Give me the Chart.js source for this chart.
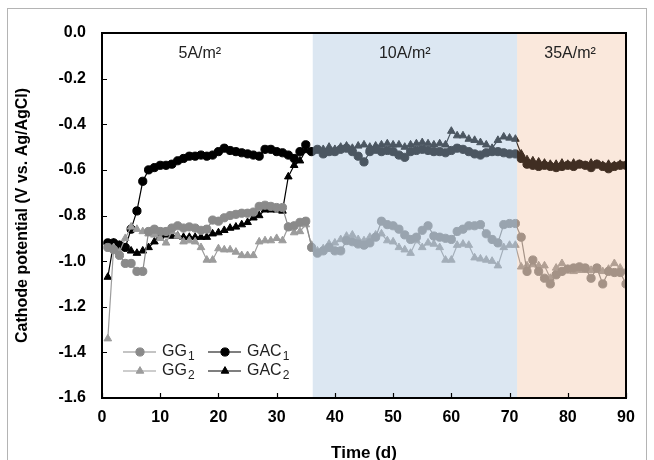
<!DOCTYPE html>
<html>
<head>
<meta charset="utf-8">
<script src="https://cdn.jsdelivr.net/npm/chart.js@4.4.0/dist/chart.umd.min.js"></script>
<style>
  html, body { margin: 0; padding: 0; background: #fff; }
  #wrap { position: relative; width: 654px; height: 460px; overflow: hidden; }
  #frame { position: absolute; left: 7px; top: 8px; width: 640px; height: 470px; border: 1px solid #b4b4b4; box-sizing: border-box; }
  canvas { position: absolute; left: 0; top: 0; }
</style>
</head>
<body>
<div id="wrap">
  <div id="frame"></div>
  <canvas id="potentialChart" width="654" height="460"></canvas>
</div>
<script>
// sampling days
const days = [1,2,3,4,5,6,7,8,9,10,11,12,13,14,15,16,17,18,19,20,21,22,23,24,25,26,27,28,29,30,
  31,32,33,34,35,36,37,38,39,40,41,42,43,44,45,46,47,48,49,50,51,52,53,54,55,56,57,58,59,60,
  61,62,63,64,65,66,67,68,69,70,71,72,73,74,75,76,77,78,79,80,81,82,83,84,85,86,87,88,89,90];

// cathode potential, V vs. Ag/AgCl
const gg1 = [-0.94,-0.95,-0.975,-1.01,-1.01,-1.045,-1.045,-0.87,-0.86,-0.87,-0.87,-0.855,-0.845,-0.855,-0.85,
  -0.855,-0.865,-0.86,-0.82,-0.825,-0.81,-0.80,-0.795,-0.79,-0.79,-0.785,-0.76,-0.755,-0.76,-0.765,
  -0.765,-0.85,-0.845,-0.83,-0.825,-0.94,-0.965,-0.955,-0.94,-0.955,-0.955,-0.91,-0.915,-0.925,-0.93,
  -0.92,-0.895,-0.825,-0.84,-0.845,-0.86,-0.885,-0.905,-0.895,-0.865,-0.845,-0.89,-0.895,-0.90,-0.905,
  -0.87,-0.86,-0.845,-0.845,-0.84,-0.88,-0.905,-0.92,-0.84,-0.835,-0.835,-0.895,-1.045,-0.995,-1.045,
  -1.075,-1.10,-1.06,-1.045,-1.035,-1.03,-1.025,-1.03,-1.075,-1.03,-1.10,-1.045,-1.05,-1.05,-1.10];
const gg2 = [-1.34,-0.94,-0.96,-0.90,-0.85,-0.86,-0.87,-0.88,-0.885,-0.90,-0.92,-0.87,-0.89,-0.915,-0.91,
  -0.915,-0.94,-0.995,-0.995,-0.945,-0.95,-0.95,-0.96,-0.975,-0.975,-0.975,-0.915,-0.91,-0.91,-0.90,
  -0.91,-0.85,-0.875,-0.87,-0.84,-0.93,-0.955,-0.945,-0.925,-0.92,-0.905,-0.89,-0.885,-0.905,-0.91,
  -0.895,-0.885,-0.88,-0.91,-0.915,-0.94,-0.95,-0.965,-0.91,-0.94,-0.92,-0.925,-0.94,-0.995,-0.995,
  -0.93,-0.925,-0.93,-0.985,-0.99,-0.995,-1.0,-1.02,-0.94,-0.93,-0.93,-1.025,-1.02,-1.015,-1.02,
  -1.02,-1.075,-1.03,-1.01,-1.035,-1.045,-1.04,-1.04,-1.04,-1.04,-1.045,-1.035,-1.01,-1.03,-1.045];
const gac1 = [-0.92,-0.92,-0.93,-0.94,-0.86,-0.78,-0.65,-0.60,-0.59,-0.58,-0.58,-0.575,-0.56,-0.55,-0.54,
  -0.54,-0.535,-0.54,-0.535,-0.52,-0.505,-0.515,-0.52,-0.525,-0.53,-0.535,-0.54,-0.51,-0.51,-0.52,
  -0.525,-0.535,-0.55,-0.52,-0.49,-0.52,-0.51,-0.53,-0.52,-0.52,-0.51,-0.505,-0.52,-0.54,-0.565,
  -0.52,-0.51,-0.52,-0.515,-0.52,-0.535,-0.545,-0.52,-0.515,-0.51,-0.515,-0.52,-0.52,-0.525,-0.515,
  -0.505,-0.51,-0.52,-0.53,-0.535,-0.525,-0.52,-0.52,-0.525,-0.53,-0.53,-0.55,-0.575,-0.58,-0.585,
  -0.58,-0.585,-0.59,-0.585,-0.58,-0.585,-0.575,-0.58,-0.59,-0.575,-0.585,-0.595,-0.585,-0.58,-0.58];
const gac2 = [-1.07,-0.92,-0.93,-0.94,-0.955,-0.965,-0.955,-0.94,-0.915,-0.89,-0.885,-0.89,-0.89,-0.895,-0.895,
  -0.895,-0.895,-0.895,-0.88,-0.875,-0.865,-0.855,-0.85,-0.84,-0.83,-0.81,-0.80,-0.775,-0.775,-0.775,
  -0.78,-0.63,-0.58,-0.56,-0.515,-0.52,-0.515,-0.51,-0.50,-0.51,-0.50,-0.495,-0.505,-0.495,-0.49,
  -0.50,-0.495,-0.49,-0.485,-0.49,-0.49,-0.50,-0.49,-0.485,-0.48,-0.485,-0.49,-0.485,-0.49,-0.43,
  -0.45,-0.45,-0.465,-0.47,-0.48,-0.49,-0.505,-0.47,-0.455,-0.46,-0.465,-0.53,-0.555,-0.56,-0.565,
  -0.57,-0.575,-0.575,-0.57,-0.575,-0.57,-0.575,-0.58,-0.57,-0.575,-0.58,-0.575,-0.58,-0.575,-0.58];

// current density phases
const phaseStart = [0, 36.2, 71.3];
const phaseEnd = [36.2, 71.3, 90];
const phaseLabels = ['5A/m²', '10A/m²', '35A/m²'];
const phaseLabelX = [16.8, 52.0, 80.4];
const phaseFill = [null, 'rgba(173,199,225,0.43)', 'rgba(236,170,125,0.27)'];

const seriesNames = ['GG1', 'GG2', 'GAC1', 'GAC2'];
const xTicks = [0, 10, 20, 30, 40, 50, 60, 70, 80, 90];

const FONT = '"Liberation Sans", Arial, sans-serif';

function pts(vals) {
  return days.map((d, i) => ({ x: d, y: vals[i] }));
}

function makeSet(label, vals, color, style, radius) {
  return {
    label,
    data: pts(vals),
    borderColor: color,
    backgroundColor: color,
    pointBackgroundColor: color,
    pointBorderColor: color,
    pointStyle: style,
    pointRadius: radius,
    pointBorderWidth: 1,
    borderWidth: 1.2,
    tension: 0
  };
}

const datasets = [
  makeSet(seriesNames[0], gg1, '#8a8a8a', 'circle', 4.1),
  makeSet(seriesNames[1], gg2, '#9c9c9c', 'triangle', 4.4),
  makeSet(seriesNames[2], gac1, '#000000', 'circle', 4.1),
  makeSet(seriesNames[3], gac2, '#000000', 'triangle', 4.4)
];

// shading sits over the data like in the original figure, then frame, ticks, legend
const phasePlugin = {
  id: 'phases',
  afterDatasetsDraw(chart) {
    const { ctx, chartArea: a, scales: { x, y } } = chart;
    ctx.save();
    phaseStart.forEach((s, i) => {
      if (!phaseFill[i]) return;
      const x0 = x.getPixelForValue(s), x1 = x.getPixelForValue(phaseEnd[i]);
      ctx.fillStyle = phaseFill[i];
      ctx.fillRect(x0, a.top, x1 - x0, a.bottom - a.top);
    });

    ctx.fillStyle = '#222';
    ctx.font = '16px ' + FONT;
    ctx.textAlign = 'center';
    ctx.textBaseline = 'middle';
    phaseLabels.forEach((t, i) => ctx.fillText(t, x.getPixelForValue(phaseLabelX[i]), a.top + 21));

    ctx.strokeStyle = '#000';
    ctx.lineWidth = 1.2;
    ctx.beginPath();
    x.ticks.forEach(t => {
      const px = Math.round(x.getPixelForValue(t.value)) + 0.5;
      ctx.moveTo(px, a.bottom); ctx.lineTo(px, a.bottom - 5);
    });
    y.ticks.forEach(t => {
      const py = Math.round(y.getPixelForValue(t.value)) + 0.5;
      ctx.moveTo(a.left, py); ctx.lineTo(a.left + 5, py);
    });
    ctx.stroke();

    ctx.lineWidth = 2;
    ctx.strokeRect(a.left, a.top, a.right - a.left, a.bottom - a.top);

    // legend
    const cols = [a.left + 21, a.left + 106];
    const rows = [a.bottom - 46, a.bottom - 27];
    const order = [0, 2, 1, 3];
    order.forEach((di, k) => {
      const ds = chart.data.datasets[di];
      const lx = cols[k % 2], ly = rows[Math.floor(k / 2)];
      ctx.strokeStyle = ds.borderColor;
      ctx.lineWidth = 1.2;
      ctx.beginPath();
      ctx.moveTo(lx, ly); ctx.lineTo(lx + 33, ly);
      ctx.stroke();
      ctx.fillStyle = ds.backgroundColor;
      ctx.strokeStyle = ds.borderColor;
      ctx.lineWidth = 1;
      Chart.helpers.drawPoint(ctx, { pointStyle: ds.pointStyle, radius: ds.pointRadius, borderWidth: 1, rotation: 0 }, lx + 17, ly);
      const base = ds.label.slice(0, -1), sub = ds.label.slice(-1);
      ctx.fillStyle = '#222';
      ctx.textAlign = 'left';
      ctx.textBaseline = 'middle';
      ctx.font = '16px ' + FONT;
      ctx.fillText(base, lx + 39, ly);
      const w = ctx.measureText(base).width;
      ctx.font = '12px ' + FONT;
      ctx.fillText(sub, lx + 39 + w + 1, ly + 5);
    });
    ctx.restore();
  }
};

new Chart(document.getElementById('potentialChart'), {
  type: 'line',
  data: { datasets },
  options: {
    responsive: false,
    animation: false,
    layout: { padding: { top: 33, right: 28, left: 7, bottom: 0 } },
    plugins: { legend: { display: false }, tooltip: { enabled: false } },
    scales: {
      x: {
        type: 'linear',
        min: 0,
        max: 90,
        afterBuildTicks: s => { s.ticks = xTicks.map(v => ({ value: v })); },
        afterFit: s => { s.height = 62; },
        grid: { display: false, drawTicks: false },
        border: { display: false },
        ticks: { color: '#000', font: { family: FONT, size: 16, weight: 'bold' }, padding: 10, maxRotation: 0 },
        title: { display: true, text: 'Time (d)', color: '#000', font: { family: FONT, size: 17, weight: 'bold' }, padding: { top: 0, bottom: -4 } }
      },
      y: {
        min: -1.6,
        max: 0,
        afterFit: s => { s.width = 95; },
        grid: { display: false, drawTicks: false },
        border: { display: false },
        ticks: { stepSize: 0.2, color: '#000', font: { family: FONT, size: 16, weight: 'bold' }, padding: 16, callback: v => v.toFixed(1) },
        title: { display: true, text: 'Cathode potential (V vs. Ag/AgCl)', color: '#000', font: { family: FONT, size: 16, weight: 'bold' }, padding: { top: 6, bottom: 0 } }
      }
    }
  },
  plugins: [phasePlugin]
});
</script>
</body>
</html>
